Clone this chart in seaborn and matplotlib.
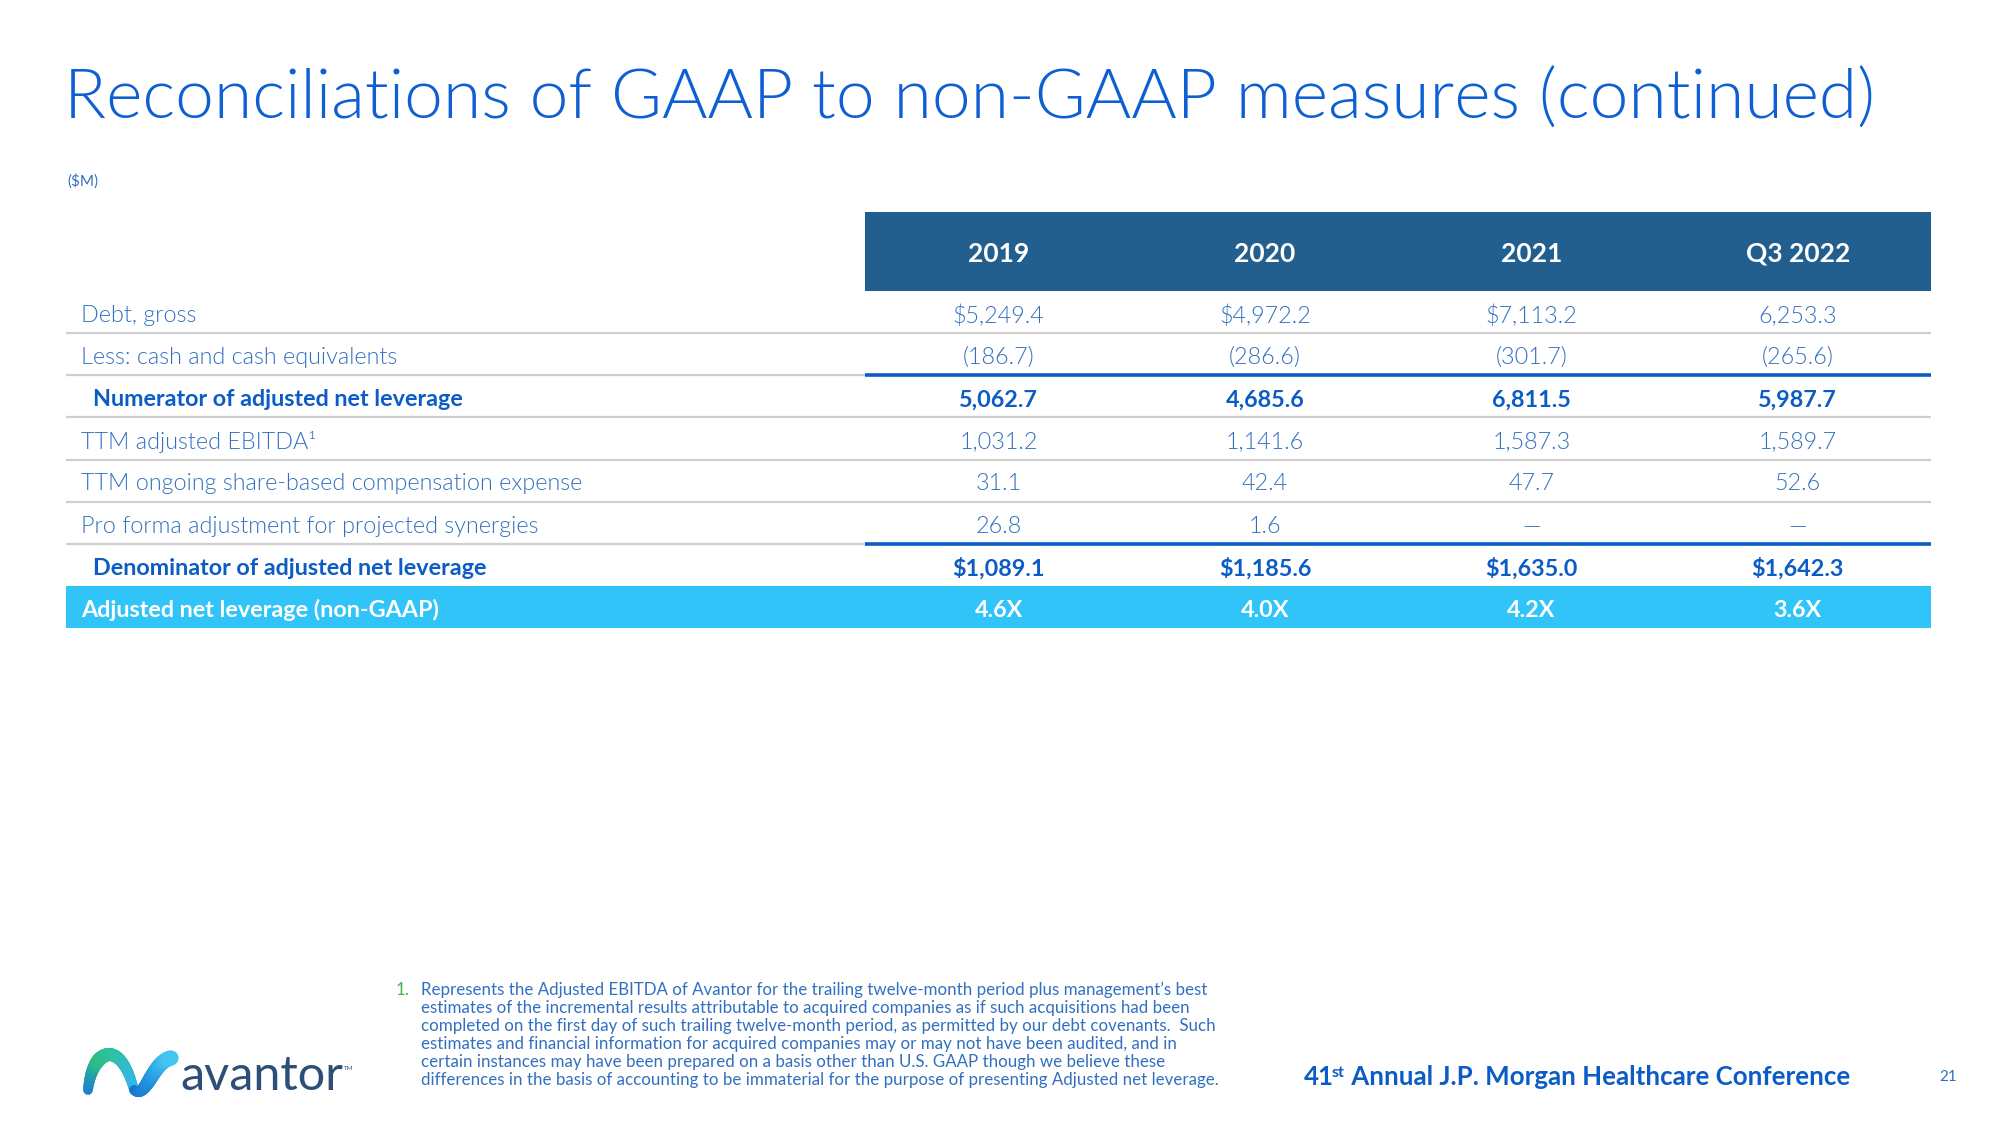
import matplotlib
matplotlib.use("Agg")
import matplotlib.pyplot as plt
from matplotlib.colors import ListedColormap, LinearSegmentedColormap
from matplotlib.collections import LineCollection
import numpy as np
import pandas as pd
import seaborn as sns

# ---------------- data ----------------
title = "Reconciliations of GAAP to non-GAAP measures (continued)"
unit_label = "($M)"
periods = ["2019", "2020", "2021", "Q3 2022"]
row_labels = [
    "Debt, gross",
    "Less: cash and cash equivalents",
    "Numerator of adjusted net leverage",
    "TTM adjusted EBITDA\u00b9",
    "TTM ongoing share-based compensation expense",
    "Pro forma adjustment for projected synergies",
    "Denominator of adjusted net leverage",
    "Adjusted net leverage (non-GAAP)",
]
vals_2019 = ["$5,249.4", "(186.7)", "5,062.7", "1,031.2", "31.1", "26.8", "$1,089.1", "4.6X"]
vals_2020 = ["$4,972.2", "(286.6)", "4,685.6", "1,141.6", "42.4", "1.6", "$1,185.6", "4.0X"]
vals_2021 = ["$7,113.2", "(301.7)", "6,811.5", "1,587.3", "47.7", "\u2014", "$1,635.0", "4.2X"]
vals_q3_2022 = ["6,253.3", "(265.6)", "5,987.7", "1,589.7", "52.6", "\u2014", "$1,642.3", "3.6X"]
subtotal_rows = [2, 6]
result_row = 7
blue_rule_rows = [1, 5]
footnote_lines = [
    "Represents the Adjusted EBITDA of Avantor for the trailing twelve-month period plus management\u2019s best",
    "estimates of the incremental results attributable to acquired companies as if such acquisitions had been",
    "completed on the first day of such trailing twelve-month period, as permitted by our debt covenants.  Such",
    "estimates and financial information for acquired companies may or may not have been audited, and in",
    "certain instances may have been prepared on a basis other than U.S. GAAP though we believe these",
    "differences in the basis of accounting to be immaterial for the purpose of presenting Adjusted net leverage.",
]
conference = "Annual J.P. Morgan Healthcare Conference"
page_number = "21"

table = pd.DataFrame(
    {"2019": vals_2019, "2020": vals_2020, "2021": vals_2021, "Q3 2022": vals_q3_2022},
    index=row_labels,
)

# ---------------- style ----------------
TITLE_BLUE = "#0d5fd3"
TEXT_BLUE = "#3170c0"
BOLD_BLUE = "#0b5cc4"
HEADER_BG = "#225f8f"
CYAN = "#31c4f8"
GRID_GRAY = "#cfcfcf"
LOGO_TEXT = "#2c4f78"
LIGHT = 300

sns.set_theme(style="white")
plt.rcParams["font.family"] = ["Lato", "DejaVu Sans"]

W, H = 2000, 1125
fig = plt.figure(figsize=(20, 11.25), dpi=100)
fig.patch.set_facecolor("white")

# overlay axes in pixel coordinates for slide furniture
ov = fig.add_axes([0, 0, 1, 1])
ov.set_xlim(0, W)
ov.set_ylim(H, 0)
ov.axis("off")

ov.text(64, 100, title, fontsize=50, color=TITLE_BLUE, fontweight=LIGHT,
        va="center", ha="left")
ov.text(67, 181, unit_label, fontsize=11, color=TEXT_BLUE, va="center", ha="left")

# ---------------- table ----------------
n_label_cells = 3
n_cols = n_label_cells + len(periods)
n_rows = len(row_labels)
header_h = 1.88

left, right = 66 / W, 1931 / W
top_px, bot_px = 212, 628
ax = fig.add_axes([left, 1 - bot_px / H, right - left, (bot_px - top_px) / H])

fill = np.zeros((n_rows, n_cols))
fill[result_row, :] = 1
sns.heatmap(fill, ax=ax, cmap=ListedColormap(["white", CYAN]), cbar=False,
            xticklabels=False, yticklabels=False, linewidths=0, vmin=0, vmax=1)
ax.set_ylim(n_rows, -header_h)
ax.set_xlim(0, n_cols)
for s in ax.spines.values():
    s.set_visible(False)

# header band
ax.axhspan(-header_h, 0, xmin=n_label_cells / n_cols, xmax=1, color=HEADER_BG, lw=0)
for j, p in enumerate(periods):
    ax.text(n_label_cells + j + 0.5, -header_h / 2 + 0.05, p, ha="center", va="center",
            fontsize=19, fontweight="bold", color="white")

# separators
for i in range(n_rows - 2):
    ax.hlines(i + 1, 0, n_cols, color=GRID_GRAY, lw=1.6)
for i in blue_rule_rows:
    ax.hlines(i + 1, n_label_cells, n_cols, color=BOLD_BLUE, lw=2.6)

# cell text
for i, label in enumerate(table.index):
    if i == result_row:
        color, weight, x0 = "white", "bold", 0.055
    elif i in subtotal_rows:
        color, weight, x0 = BOLD_BLUE, "bold", 0.1
    else:
        color, weight, x0 = TEXT_BLUE, LIGHT, 0.055
    ax.text(x0, i + 0.58, label, ha="left", va="center", fontsize=16.8,
            fontweight=weight, color=color)
    for j, p in enumerate(table.columns):
        ax.text(n_label_cells + j + 0.5, i + 0.58, table.loc[label, p], ha="center",
                va="center", fontsize=16.8, fontweight=weight, color=color)

# ---------------- footnote ----------------
ov.text(396, 990, "1.", fontsize=12.2, color="#3db54a", va="center", ha="left")
for k, line in enumerate(footnote_lines):
    ov.text(421, 990 + k * 18.1, line, fontsize=12.2, color=TEXT_BLUE,
            va="center", ha="left")

# ---------------- logo ----------------
def bezier(p0, p1, p2, p3, n=60):
    t = np.linspace(0, 1, n)[:, None]
    p0, p1, p2, p3 = map(np.asarray, (p0, p1, p2, p3))
    return ((1 - t) ** 3) * p0 + 3 * ((1 - t) ** 2) * t * p1 + 3 * (1 - t) * t ** 2 * p2 + t ** 3 * p3


def ribbon(pts, colors, widths):
    segs = np.stack([pts[:-1], pts[1:]], axis=1)
    cmap = LinearSegmentedColormap.from_list("rib", colors)
    c = cmap(np.linspace(0, 1, len(segs)))
    w = np.interp(np.linspace(0, 1, len(segs)), np.linspace(0, 1, len(widths)), widths)
    ov.add_collection(LineCollection(segs, colors=c, linewidths=w, capstyle="round"))


left_arc = bezier((88, 1090), (92, 1050), (120, 1036), (134, 1090))
right_arm = bezier((134, 1090), (146, 1100), (152, 1062), (171, 1058))
ribbon(left_arc, ["#1c7fd3", "#2bbd86", "#2fc0a0", "#35b6e6"], [7, 10, 9, 7])
ribbon(right_arm, ["#1673cc", "#1f8fdc", "#45c6f2"], [7, 10, 11])

ov.text(180, 1076, "avantor", fontsize=35, color=LOGO_TEXT, va="center", ha="left")
ov.text(344, 1068, "TM", fontsize=4.5, color=LOGO_TEXT, va="center", ha="left")

# ---------------- conference line ----------------
t41 = ov.text(1304, 1077, "41", fontsize=18.6, fontweight="bold", color=BOLD_BLUE,
              va="center", ha="left")
tst = ov.annotate("st", xy=(1, 1), xycoords=t41, xytext=(-1.5, -1), textcoords="offset points",
                  fontsize=11.5, fontweight="bold", color=BOLD_BLUE, va="top", ha="left")
ov.annotate(" " + conference, xy=(1, 0), xycoords=(tst, t41), xytext=(0, 0),
            textcoords="offset points", fontsize=18.6, fontweight="bold",
            color=BOLD_BLUE, va="bottom", ha="left")
ov.text(1948, 1077, page_number, fontsize=11, color=TEXT_BLUE, va="center", ha="center")

fig.savefig("out.png", dpi=100, facecolor="white")
